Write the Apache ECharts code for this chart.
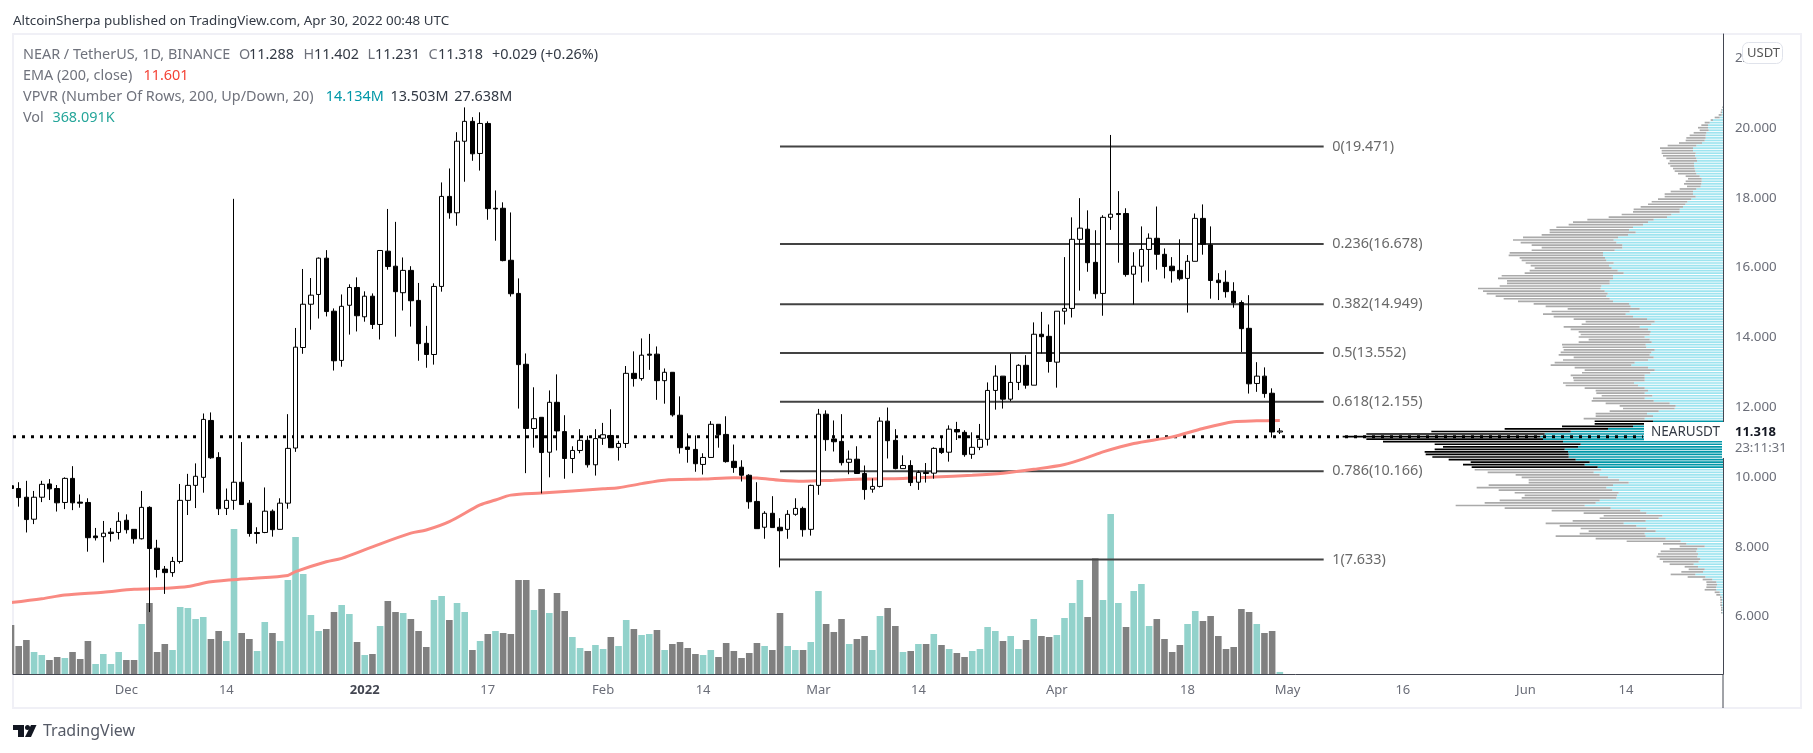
<!DOCTYPE html>
<html><head><meta charset="utf-8">
<style>html,body{margin:0;padding:0;background:#fff}#c{width:1813px;height:753px}</style>
<script src="https://cdn.jsdelivr.net/npm/echarts@6/dist/echarts.min.js"></script>
</head><body><div id="c"></div>
<script>
// Daily candles, first entry is 2021-11-16 (day -1), last is 2022-04-30 (day 164)
const firstDayNumber = -1;
const opens = [9.75,
9.67,9.42,8.79,9.42,9.80,9.67,9.27,9.96,9.28,9.27,8.31,8.29,8.42,8.41,8.76,8.50,8.23,9.13,7.96,7.36,
7.26,7.58,9.33,9.76,9.99,11.62,10.56,9.10,9.33,9.85,9.25,8.41,8.41,9.02,8.50,9.25,10.83,13.71,14.95,15.23,
16.27,14.75,13.34,14.92,15.43,14.59,15.18,14.37,16.47,16.04,15.28,15.92,15.06,13.83,13.51,15.46,18.04,17.57,19.62,20.19,
19.27,20.13,17.70,17.70,16.21,15.26,13.23,11.39,11.71,10.71,12.14,11.30,10.53,10.76,11.05,10.35,11.11,11.19,10.85,10.96,
12.97,12.82,13.52,13.52,12.76,13.00,11.77,10.86,10.79,10.36,10.56,11.51,11.22,10.45,10.28,10.05,9.30,8.56,8.96,8.56,
8.50,8.93,9.10,8.50,9.76,11.80,11.09,11.02,10.42,10.51,10.10,9.65,9.73,11.60,11.05,10.24,10.33,9.85,10.13,10.11,
10.82,10.71,11.36,11.28,10.65,10.85,11.08,12.48,12.89,12.23,12.71,13.20,12.63,14.09,14.03,13.29,14.75,14.83,16.81,17.10,
16.15,15.26,17.44,17.55,17.55,15.81,16.04,16.52,16.84,16.38,16.04,15.92,15.69,16.18,17.41,16.65,15.64,15.58,15.32,15.00,
14.26,12.68,12.89,12.40,11.288];
const highs = [9.90,
9.85,9.89,9.60,9.89,9.94,9.77,9.99,10.31,9.50,9.39,8.54,8.74,8.54,8.99,8.93,8.50,9.60,9.16,8.20,7.45,
7.71,9.80,10.09,10.39,11.82,11.85,10.71,9.67,17.97,11.00,9.34,8.56,9.70,9.07,9.39,11.80,14.27,15.96,15.70,16.29,
16.50,14.83,15.23,15.52,15.72,15.32,15.26,16.49,17.68,17.31,16.29,16.04,15.56,14.33,15.55,18.44,18.84,19.88,20.59,20.31,
20.45,20.19,18.21,17.87,17.58,15.69,13.54,12.57,11.71,12.48,12.94,11.77,10.88,11.37,11.18,11.37,11.55,11.94,11.04,13.18,
13.60,13.97,14.10,13.74,13.11,13.00,12.31,11.25,11.19,10.68,11.60,11.51,11.74,10.93,10.48,10.08,9.85,9.02,9.45,8.82,
9.05,9.39,9.15,9.78,11.95,11.91,11.62,11.80,10.76,10.88,10.33,9.96,11.71,11.99,11.37,10.62,10.48,10.19,10.40,10.85,
11.14,11.48,11.58,11.34,11.28,11.52,12.71,13.20,12.89,13.54,13.23,13.49,14.43,14.73,14.37,14.75,16.30,17.44,17.99,17.64,
17.07,17.50,19.80,18.19,17.70,16.44,17.18,16.98,17.75,16.55,16.30,16.81,16.36,17.55,17.81,17.18,15.84,15.92,15.58,15.06,
15.21,13.29,13.14,12.54,11.402];
const lows = [9.40,
9.15,8.41,8.65,9.28,9.34,9.01,9.08,9.05,9.12,7.86,8.18,7.55,8.15,8.21,8.38,8.09,8.21,6.13,7.12,6.65,
7.14,7.52,8.91,9.11,9.55,10.52,8.91,8.91,9.06,9.21,8.29,8.09,8.39,8.29,8.50,9.09,10.72,13.53,14.22,14.54,
14.60,13.05,13.16,14.08,14.17,14.45,14.24,13.94,15.94,14.02,14.77,14.31,13.33,13.13,13.22,15.31,17.40,17.20,18.46,19.06,
18.78,17.37,16.77,16.18,15.17,11.96,10.11,10.84,9.53,9.99,10.76,9.95,10.11,10.68,10.27,10.04,10.92,10.84,10.47,10.83,
12.59,12.76,13.07,12.21,12.10,11.73,10.67,10.41,10.15,10.07,10.56,10.84,10.41,10.12,9.87,9.09,8.52,8.23,8.55,7.41,
8.23,8.89,8.29,8.32,9.49,10.75,10.73,10.33,10.08,10.10,9.35,9.55,9.70,10.53,10.22,10.24,9.74,9.63,9.84,9.95,
10.66,10.44,11.06,10.58,10.52,10.77,10.90,11.93,11.96,12.17,12.49,12.53,12.63,13.54,12.99,12.56,14.37,14.57,15.34,15.88,
15.11,14.62,17.08,16.14,15.74,14.94,15.57,15.60,15.94,15.69,15.57,15.63,14.71,16.18,16.37,15.11,15.07,15.14,14.85,13.58,
12.39,12.44,12.27,11.13,11.231];
const closes = [9.67,
9.41,8.78,9.42,9.79,9.66,9.26,9.96,9.26,9.25,8.26,8.26,8.39,8.38,8.73,8.49,8.23,9.13,7.95,7.35,7.26,
7.58,9.33,9.76,10.02,11.65,10.55,9.09,9.33,9.85,9.21,8.38,8.38,9.02,8.49,9.25,10.82,13.72,14.95,15.21,16.27,
14.74,13.33,14.89,15.43,14.62,15.18,14.37,16.49,16.03,15.31,15.92,15.05,13.82,13.51,15.46,18.04,17.57,19.62,20.19,19.26,
20.13,17.69,17.68,16.20,15.25,13.22,11.39,11.67,10.70,12.14,11.32,10.53,10.76,11.05,10.35,11.10,11.21,10.84,10.96,12.97,
12.82,13.49,13.49,12.76,13.00,11.78,10.84,10.79,10.38,10.56,11.51,11.21,10.44,10.27,10.05,9.29,8.52,8.96,8.55,8.46,
8.93,9.10,8.49,9.76,11.80,11.07,11.01,10.41,10.51,10.10,9.64,9.73,11.60,11.04,10.24,10.33,9.84,10.13,10.10,10.82,
10.70,11.37,11.29,10.64,10.85,11.08,12.48,12.89,12.23,12.71,13.20,12.63,14.09,14.02,13.31,14.75,14.83,16.81,17.13,16.14,
15.25,17.44,17.53,17.52,15.80,16.04,16.52,16.84,16.38,16.03,15.91,15.68,16.18,17.41,16.67,15.63,15.57,15.31,14.99,14.25,
12.67,12.89,12.39,11.29,11.318];
// Volume in millions, and whether the day closed up (1) or down (0)
const volumes = [8.82,
5.04,6.12,3.96,3.42,2.52,3.06,2.88,3.96,2.7,5.94,1.8,3.6,1.8,3.96,2.52,2.52,9,12.78,3.96,5.4,
4.32,12.06,11.88,9.9,10.26,6.3,7.74,5.94,26.1,7.38,6.3,4.14,9.36,7.38,5.94,16.92,24.66,18,10.62,7.74,
8.1,11.16,12.42,10.8,5.76,3.42,3.6,8.64,13.14,11.16,10.98,9.9,7.74,4.86,13.32,14.04,9.72,12.78,11.16,4.32,
5.94,7.2,7.74,7.38,7.2,16.92,16.92,11.52,15.3,10.98,14.58,11.34,6.66,4.68,4.14,5.22,4.5,6.66,5.04,9.72,
8.1,7.02,7.2,7.92,4.32,5.4,5.76,4.68,3.6,3.42,4.32,3.06,5.58,4.14,2.88,3.78,5.58,5.04,4.32,10.98,
5.04,4.32,4.32,5.76,14.94,9,7.56,9.9,5.4,6.3,6.84,4.32,10.44,11.88,8.64,3.96,4.14,5.4,5.4,7.2,
5.22,4.5,3.78,3.06,4.14,4.5,8.46,7.74,5.94,6.84,4.5,6.12,9.9,6.84,6.66,7.02,10.08,12.78,16.92,10.26,
20.82,13.32,28.8,12.78,8.46,14.94,16.2,8.64,9.9,6.3,3.96,5.22,9,11.34,9.54,10.44,6.84,4.5,4.86,11.7,
11.16,9,7.38,7.74,0.37];
const volumeUp = [0,
0,0,1,1,0,0,1,0,0,0,1,1,1,1,0,0,1,0,0,0,
1,1,1,1,1,0,0,1,1,0,0,1,1,0,1,1,1,1,1,1,
0,0,1,1,0,1,0,1,0,0,1,0,0,0,1,1,0,1,1,0,
1,0,1,0,0,0,0,1,0,1,0,0,1,1,0,1,1,0,1,1,
0,1,1,0,1,0,0,0,0,1,1,0,0,0,0,0,0,1,0,0,
1,1,0,1,1,0,0,0,1,0,0,1,1,0,0,1,0,1,0,1,
0,1,0,0,1,1,1,1,0,1,1,0,1,0,0,1,1,1,1,0,
0,1,1,1,0,1,1,1,0,0,0,0,1,1,0,0,0,0,0,0,
0,1,0,0,1];
// 200 close, hand-read sample of the EMA: day number counted from 2021-11-17
const emaDays = [-1,3,6,11,15,19,22,25,30,35,36,40,42,46,51,53,56,60,62,64,68,76,78,81,84,89,93,96,99,102,106,110,115,119,124,128,132,136,139,141,145,150,154,158,161,164];
const emaValues = [6.40,6.51,6.62,6.70,6.78,6.81,6.86,7.00,7.09,7.18,7.29,7.57,7.67,8.00,8.39,8.48,8.72,9.20,9.34,9.48,9.54,9.66,9.69,9.81,9.91,9.94,9.98,9.97,9.91,9.88,9.91,9.94,9.96,10.00,10.05,10.11,10.22,10.36,10.56,10.72,10.96,11.15,11.39,11.58,11.61,11.62];
// Fibonacci levels
const fibRatios = ['0','0.236','0.382','0.5','0.618','0.786','1'];
const fibPrices = [19.471,16.678,14.949,13.552,12.155,10.166,7.633];
const fibStartDay = 99, fibEndDay = 169.7;
const supportPrice = 11.15, supportEndDay = 211.2;
// Volume profile rows from the top of the range down, in lots of 24K
const vpvrUp = [1,2,3,4,10,30,40,45,45,43,50,52,52,55,63,80,90,90,82,84,80,78,87,87,85,83,80,70,64,64,65,67,80,90,90,82,95,107,113,120,130,130,155,168,208,225,240,270,282,262,285,315,328,320,302,302,325,360,360,354,350,328,342,334,316,298,330,330,340,340,365,367,355,346,350,340,330,282,277,250,280,292,270,228,205,215,250,225,217,220,235,220,214,232,230,205,215,220,208,225,265,275,225,205,218,235,235,235,267,255,235,225,235,212,235,208,160,142,145,193,228,210,235,210,230,270,345,457,535,548,540,480,427,435,475,465,463,463,442,400,415,376,365,388,370,345,312,283,330,350,332,313,318,320,370,382,415,337,248,230,182,193,232,298,260,230,202,235,232,172,127,110,55,77,80,75,77,68,73,88,75,55,60,83,53,32,20,18,20,20,10,8,4,3,3,3,2,2,2];
const vpvrDown = [2,3,4,9,15,7,15,20,30,27,38,48,58,57,69,86,99,94,102,96,90,82,78,71,65,62,55,42,41,48,52,41,50,67,85,93,100,107,112,127,138,140,149,175,199,225,223,230,238,258,259,285,302,287,272,242,249,280,283,256,254,264,235,231,264,297,334,345,308,308,305,368,365,363,332,318,285,286,255,216,234,248,238,220,207,209,228,232,216,207,198,183,219,251,251,273,272,273,240,255,240,242,220,210,205,222,215,213,213,217,180,157,145,152,155,186,192,168,155,147,154,172,183,175,155,213,310,418,535,593,530,540,438,405,390,430,429,409,381,357,365,378,380,318,252,259,271,300,373,389,341,312,277,284,300,333,387,318,266,188,176,177,219,234,230,197,201,195,270,210,162,70,75,83,107,120,122,122,107,72,40,48,65,74,53,29,30,31,30,35,15,12,5,5,5,5,4,4,4];
const vpvrHigh = 20.62, vpvrLow = 6.06;
const highlightHigh = 11.6, highlightLow = 10.21;
// Axis labels: day number from 2021-11-17, and its label
const dateTickDays = [14,27,45,61,76,89,104,117,135,152,165,180,196,209];
const dateTickLabels = ['Dec','14','2022','17','Feb','14','Mar','14','Apr','18','May','16','Jun','14'];
const priceTicks = [6,8,10,12,14,16,18,20,22];

const FONT = 'Noto Sans';
const tickMap = {};
dateTickDays.forEach((d,i) => { tickMap[d] = dateTickLabels[i]; });
const dayOf = i => firstDayNumber + i;

const rowStep = (vpvrHigh - vpvrLow)/vpvrUp.length;
const rowPrice = vpvrUp.map((_,k)=> vpvrHigh - (k+0.5)*rowStep);
const isHi = k => rowPrice[k] <= highlightHigh && rowPrice[k] >= highlightLow;

const series = [
 {type:'bar', name:'Vol', xAxisIndex:0, yAxisIndex:1, barWidth:6.6, z:1, clip:true,
  data:volumes.map((v,i)=>({value:[dayOf(i),v], itemStyle:{color:volumeUp[i]?'#92d2cb':'#808080'}}))},
 {type:'bar', name:'VPVR up', xAxisIndex:1, yAxisIndex:2, stack:'vp', barWidth:'66%', z:2, silent:true,
  data:vpvrUp.map((v,k)=>({value:v, itemStyle:{color:isHi(k)?'#0097a7':'#9ee4ef'}}))},
 {type:'bar', name:'VPVR down', xAxisIndex:1, yAxisIndex:2, stack:'vp', barWidth:'66%', z:2, silent:true,
  data:vpvrDown.map((v,k)=>({value:v, itemStyle:{color:isHi(k)?'#000000':'#aaaaaa'}}))},
 {type:'line', name:'Level', xAxisIndex:0, yAxisIndex:0, z:3, symbol:'none', silent:true,
  lineStyle:{color:'#000',width:3,type:[3,6],cap:'butt'},
  data:[[-0.74,supportPrice],[supportEndDay,supportPrice]]},
 ...fibPrices.map(p=>({type:'line', name:'Fib', xAxisIndex:0, yAxisIndex:0, z:3, symbol:'none', silent:true,
  lineStyle:{color:'#434343',width:2},
  data:[[fibStartDay,p],[fibEndDay,p]]})),
 {type:'scatter', name:'Fib labels', xAxisIndex:0, yAxisIndex:0, z:3, symbolSize:1, silent:true,
  itemStyle:{color:'rgba(0,0,0,0)'},
  label:{show:true, position:'right', distance:8, color:'#434343', fontFamily:FONT, fontSize:14.4,
    formatter:o=>fibRatios[o.dataIndex]+'('+fibPrices[o.dataIndex].toFixed(3)+')'},
  data:fibPrices.map(p=>[fibEndDay,p])},
 {type:'line', name:'EMA', xAxisIndex:0, yAxisIndex:0, z:4, symbol:'none', silent:true, smooth:0.3,
  lineStyle:{color:'#f98a82',width:3},
  data:emaDays.map((d,i)=>[d,emaValues[i]])},
 {type:'candlestick', name:'NEARUSDT', xAxisIndex:0, yAxisIndex:0, z:5, barWidth:5, clip:true,
  itemStyle:{color:'#ffffff',color0:'#000000',borderColor:'#000000',borderColor0:'#000000',borderWidth:1},
  data:opens.map((o,i)=>[dayOf(i),o,closes[i],lows[i],highs[i]])}
];

// Layout-only text helpers
const T = (x,y,text,color,opt)=>({type:'text',z:100,x,y,style:Object.assign({text,fill:color,font:'14.4px "'+FONT+'"',textVerticalAlign:'middle',textBaseline:'middle'},opt||{})});
const GR='#6f727c', DK='#333a45';
const graphics = [
 {type:'rect',z:80,shape:{x:0,y:34,width:12,height:674},style:{fill:'#fff'}},
 {type:'rect',z:-1,shape:{x:13,y:34,width:1788,height:674},style:{fill:'none',stroke:'#f0f0f6',lineWidth:2}},
 {type:'line',z:90,shape:{x1:1723,y1:674,x2:1723,y2:708},style:{stroke:'#434651',lineWidth:1}},
 {type:'rect',z:91,shape:{x:1644,y:422,width:79,height:19},style:{fill:'#fff'}},
 {type:'rect',z:91,shape:{x:1722,y:422,width:77,height:36},style:{fill:'#fff'}},
 T(1651,432,'NEARUSDT','#333a45',{font:'13.5px "'+FONT+'"'}),
 T(1735,432,'11.318','#131722',{font:'bold 13px "'+FONT+'"'}),
 T(1735,448,'23:11:31','#6f727c',{font:'13px "'+FONT+'"'}),
 {type:'rect',z:95,shape:{x:1742.5,y:42.5,width:40,height:21,r:6},style:{fill:'#fff',stroke:'#e0e3eb',lineWidth:1}},
 T(1747,53,'USDT','#555',{font:'13px "'+FONT+'"'}),
 T(13,21,'AltcoinSherpa published on TradingView.com, Apr 30, 2022 00:48 UTC','#333a45',{font:'13.4px "'+FONT+'"'}),
 T(23,55,'NEAR / TetherUS, 1D, BINANCE',GR),
 T(239,55,'O',GR),T(249,55,'11.288',DK),
 T(303.5,55,'H',GR),T(314,55,'11.402',DK),
 T(367.5,55,'L',GR),T(375,55,'11.231',DK),
 T(428.5,55,'C',GR),T(438,55,'11.318',DK),
 T(492,55,'+0.029 (+0.26%)',DK),
 T(23,76,'EMA (200, close)',GR),T(143.5,76,'11.601','#f44336'),
 T(23,97,'VPVR (Number Of Rows, 200, Up/Down, 20)',GR),
 T(325.7,97,'14.134M','#0097a7'),T(390.4,97,'13.503M',DK),T(454.3,97,'27.638M',DK),
 T(23,118,'Vol',GR),T(52.4,118,'368.091K','#26a69a'),
 T(43,731,'TradingView','#555a66',{font:'16px "'+FONT+'"'}),
 {type:'polygon',z:100,shape:{points:[[13,725],[24,725],[24,737],[18,737],[18,730],[13,730]]},style:{fill:'#131722'}},
 {type:'circle',z:100,shape:{cx:27.5,cy:727.5,r:2.5},style:{fill:'#131722'}},
 {type:'polygon',z:100,shape:{points:[[31,725],[36.5,725],[31,737],[25,737]]},style:{fill:'#131722'}}
];

const chart = echarts.init(document.getElementById('c'),null,{renderer:'canvas'});
chart.setOption({
 animation:false, backgroundColor:'#fff',
 grid:[{left:13,width:1710,top:34,height:640},{left:13,width:1710,top:106,height:508}],
 xAxis:[
  {type:'value',gridIndex:0,min:-0.741,max:221.63,splitLine:{show:false},
   axisLine:{show:true,onZero:false,lineStyle:{color:'#434651',width:1}},axisTick:{show:false},
   axisLabel:{customValues:dateTickDays,margin:10,color:'#6a6d78',fontFamily:FONT,fontSize:13,
     hideOverlap:false,
     formatter:v=>{const s=tickMap[v]; return s==='2022'?'{b|2022}':(s||'');},
     rich:{b:{fontWeight:'bold',color:'#434651',fontFamily:FONT,fontSize:13}}}},
  {type:'value',gridIndex:1,inverse:true,min:0,max:5130,show:false,splitLine:{show:false}}
 ],
 yAxis:[
  {type:'value',gridIndex:0,position:'right',min:4.355,max:22.693,splitLine:{show:false},
   axisLine:{show:true,onZero:false,lineStyle:{color:'#434651',width:1}},axisTick:{show:false},
   axisLabel:{customValues:priceTicks,margin:12,color:'#6a6d78',fontFamily:FONT,fontSize:13.3,formatter:v=>v.toFixed(3)}},
  {type:'value',gridIndex:0,min:0,max:115.2,show:false,splitLine:{show:false}},
  {type:'category',gridIndex:1,inverse:true,show:false,data:rowPrice.map(p=>p.toFixed(2))}
 ],
 series, graphic:{elements:graphics}
});
</script></body></html>
